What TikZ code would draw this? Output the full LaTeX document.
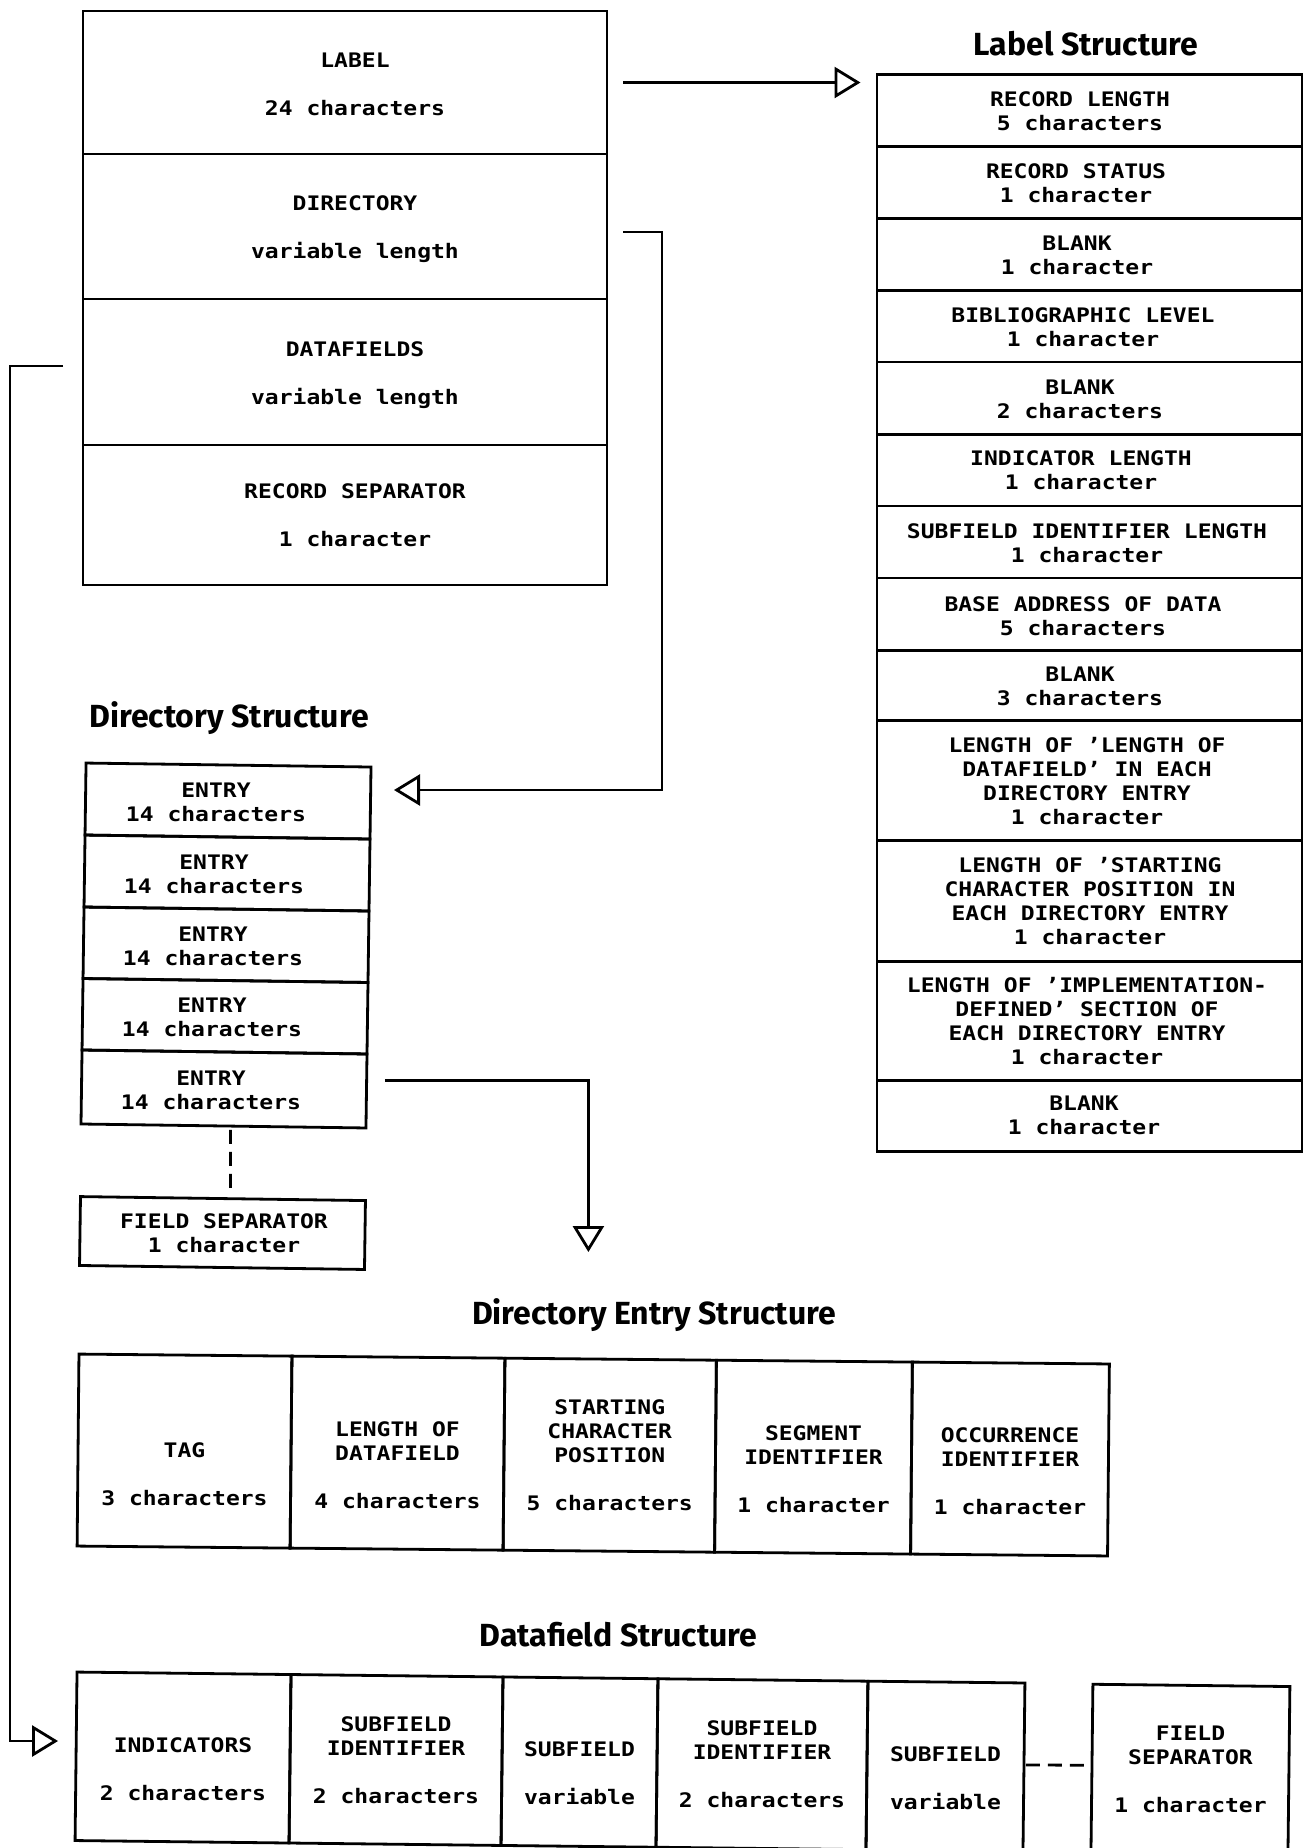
\documentclass[tikz,border=0pt]{standalone}
\usepackage{fontspec}
\usetikzlibrary{arrows.meta}
\newfontfamily\monof[FakeStretch=1.15]{DejaVu Sans Mono}
\newfontfamily\titlef{Fira Sans}
\newcommand\sr{\rule[-7pt]{0pt}{24pt}}
\newcommand\cellbox[6][]{\node[cell,#1,minimum width={#5-#3},minimum height={#6-#4}] (#2) at ({(#3+#5)/2},{(#4+#6)/2}) {};}
\begin{document}
\begin{tikzpicture}[x=1pt,y=-1pt,
  cell/.style={draw,rectangle,line width=2.8pt,inner sep=0pt,outer sep=0pt},
  txt/.style={font=\monof\bfseries\fontsize{20}{24}\selectfont,align=center,inner sep=0pt},
  title/.style={font=\titlef\bfseries\fontsize{32}{38}\selectfont,inner sep=0pt,anchor=base},
  conn/.style={line width=2.8pt,-{Triangle[open,length=26pt,width=31pt,line width=2.8pt]}},
  dsh/.style={line width=2.8pt,dash pattern=on 14pt off 8pt}]
\fill[white] (0,0) rectangle (1305,1848);
\useasboundingbox (0,0) rectangle (1305,1848);

% ---------- top record box ----------
\cellbox{lab}{83}{11}{607}{154}
\cellbox{dir}{83}{154}{607}{299}
\cellbox{dat}{83}{299}{607}{445}
\cellbox{rsep}{83}{445}{607}{585}
\node[txt] (tlab) at (355,86) {\sr LABEL\\[24pt]\sr 24 characters};
\node[txt] (tdir) at (355,229) {\sr DIRECTORY\\[24pt]\sr variable length};
\node[txt] (tdat) at (355,375.5) {\sr DATAFIELDS\\[24pt]\sr variable length};
\node[txt] (trsep) at (355,517.7) {\sr RECORD SEPARATOR\\[24pt]\sr 1 character};

% ---------- label structure ----------
\node[title] (ttl1) at (1086,55.5) {Label Structure};
\cellbox{ls1}{877}{74.6}{1302}{146.2}
\cellbox{ls2}{877}{146.2}{1302}{218.1}
\cellbox{ls3}{877}{218.1}{1302}{290.1}
\cellbox{ls4}{877}{290.1}{1302}{362}
\cellbox{ls5}{877}{362}{1302}{434.4}
\cellbox{ls6}{877}{434.4}{1302}{505.9}
\cellbox{ls7}{877}{505.9}{1302}{578}
\cellbox{ls8}{877}{578}{1302}{650.3}
\cellbox{ls9}{877}{650.3}{1302}{720.7}
\cellbox{ls10}{877}{720.7}{1302}{840.5}
\cellbox{ls11}{877}{840.5}{1302}{961.1}
\cellbox{ls12}{877}{961.1}{1302}{1080.5}
\cellbox{ls13}{877}{1080.5}{1302}{1151.3}
\node[txt] (tls1) at (1080,113.5) {\sr RECORD LENGTH\\\sr 5 characters};
\node[txt] (tls2) at (1076,185) {\sr RECORD STATUS\\\sr 1 character};
\node[txt] (tls3) at (1077,257) {\sr BLANK\\\sr 1 character};
\node[txt] (tls4) at (1083,329) {\sr BIBLIOGRAPHIC LEVEL\\\sr 1 character};
\node[txt] (tls5) at (1080,401) {\sr BLANK\\\sr 2 characters};
\node[txt] (tls6) at (1081,472) {\sr INDICATOR LENGTH\\\sr 1 character};
\node[txt] (tls7) at (1087,545) {\sr SUBFIELD IDENTIFIER LENGTH\\\sr 1 character};
\node[txt] (tls8) at (1083,618) {\sr BASE ADDRESS OF DATA\\\sr 5 characters};
\node[txt] (tls9) at (1080,688) {\sr BLANK\\\sr 3 characters};
\node[txt] (tls10) at (1087,783) {\sr LENGTH OF ’LENGTH OF\\\sr DATAFIELD’ IN EACH\\\sr DIRECTORY ENTRY\\\sr 1 character};
\node[txt] (tls11) at (1090,903) {\sr LENGTH OF ’STARTING\\\sr CHARACTER POSITION IN\\\sr EACH DIRECTORY ENTRY\\\sr 1 character};
\node[txt] (tls12) at (1087,1023) {\sr LENGTH OF ’IMPLEMENTATION-\\\sr DEFINED’ SECTION OF\\\sr EACH DIRECTORY ENTRY\\\sr 1 character};
\node[txt] (tls13) at (1084,1117) {\sr BLANK\\\sr 1 character};

% ---------- directory structure ----------
\node[title] (ttl2) at (229,727) {Directory Structure};
\begin{scope}[rotate around={-0.8:(226,946)}]
\cellbox[transform shape]{de1}{83.5}{765}{368.5}{837}
\cellbox[transform shape]{de2}{83.5}{837}{368.5}{909}
\cellbox[transform shape]{de3}{83.5}{909}{368.5}{980.5}
\cellbox[transform shape]{de4}{83.5}{980.5}{368.5}{1052}
\cellbox[transform shape]{de5}{83.5}{1052}{368.5}{1126}
\cellbox[transform shape]{fsd}{84}{1198.6}{369}{1267.5}
\end{scope}
\node[txt] (tde1) at (216,804) {\sr ENTRY\\\sr 14 characters};
\node[txt] (tde2) at (214,876) {\sr ENTRY\\\sr 14 characters};
\node[txt] (tde3) at (213,948) {\sr ENTRY\\\sr 14 characters};
\node[txt] (tde4) at (212,1019) {\sr ENTRY\\\sr 14 characters};
\node[txt] (tde5) at (211,1092) {\sr ENTRY\\\sr 14 characters};
\node[txt] (tfsd) at (224,1235.5) {\sr FIELD SEPARATOR\\\sr 1 character};

% ---------- directory entry structure ----------
\node[title] (ttl3) at (654,1324.5) {Directory Entry Structure};
\begin{scope}[rotate around={-0.55:(593,1455)}]
\cellbox[transform shape]{e1}{78}{1359}{291}{1551}
\cellbox[transform shape]{e2}{291}{1359}{504}{1551}
\cellbox[transform shape]{e3}{504}{1359}{715.5}{1551}
\cellbox[transform shape]{e4}{715.5}{1359}{911.5}{1551}
\cellbox[transform shape]{e5}{911.5}{1359}{1108.5}{1551}
\end{scope}
\node[txt] (te1) at (184.5,1476.8) {\sr TAG\\[24pt]\sr 3 characters};
\node[txt] (te2) at (397.5,1467.2) {\sr LENGTH OF\\\sr DATAFIELD\\[24pt]\sr 4 characters};
\node[txt] (te3) at (609.75,1457.4) {\sr STARTING\\\sr CHARACTER\\\sr POSITION\\[24pt]\sr 5 characters};
\node[txt] (te4) at (813.5,1471.8) {\sr SEGMENT\\\sr IDENTIFIER\\[24pt]\sr 1 character};
\node[txt] (te5) at (1010,1473) {\sr OCCURRENCE\\\sr IDENTIFIER\\[24pt]\sr 1 character};

% ---------- datafield structure ----------
\node[title] (ttl4) at (618.4,1646.7) {Datafield Structure};
\begin{scope}[rotate around={-0.66:(550,1762)}]
\cellbox[transform shape]{f1}{76}{1677.5}{290}{1846}
\cellbox[transform shape]{f2}{290}{1677.5}{502}{1846}
\cellbox[transform shape]{f3}{502}{1677.5}{657}{1846}
\cellbox[transform shape]{f4}{657}{1677.5}{867}{1846}
\cellbox[transform shape]{f5}{867}{1677.5}{1024}{1846}
\cellbox[transform shape]{fsf}{1092}{1678}{1289}{1870}
\end{scope}
\node[txt] (tf1) at (183,1771.2) {\sr INDICATORS\\[24pt]\sr 2 characters};
\node[txt] (tf2) at (396,1762.5) {\sr SUBFIELD\\\sr IDENTIFIER\\[24pt]\sr 2 characters};
\node[txt] (tf3) at (579.5,1775.9) {\sr SUBFIELD\\[24pt]\sr variable};
\node[txt] (tf4) at (762,1766.5) {\sr SUBFIELD\\\sr IDENTIFIER\\[24pt]\sr 2 characters};
\node[txt] (tf5) at (945.5,1780.4) {\sr SUBFIELD\\[24pt]\sr variable};
\node[txt] (tfsf) at (1190.5,1771.2) {\sr FIELD\\\sr SEPARATOR\\[24pt]\sr 1 character};

% ---------- connectors ----------
\draw[conn] ([xshift=16pt]lab.east) -- ([xshift=-16.5pt]ls1.west |- lab.east);
\coordinate (k2) at (662,790);
\draw[conn] ([xshift=16pt,yshift=-5.5pt]dir.east) -| (k2) -- ([xshift=23.5pt]de1.east |- k2);
\coordinate (t3) at (588.4,1252);
\draw[conn] ([xshift=18.5pt,yshift=10.5pt]de5.east) -| (t3);
\coordinate (k4) at (10,1741);
\draw[conn] ([xshift=-20pt,yshift=6pt]dat.west) -| (k4) -- ([xshift=-18pt]f1.west |- k4);
\draw[dsh] ([xshift=7pt,yshift=-4pt]de5.south) -- ([xshift=7.5pt,yshift=3.5pt]fsd.north);
\draw[dsh] ([xshift=2pt,yshift=2.3pt]f5.east) -- ([xshift=-7pt,yshift=15pt]fsf.west);
\end{tikzpicture}
\end{document}
